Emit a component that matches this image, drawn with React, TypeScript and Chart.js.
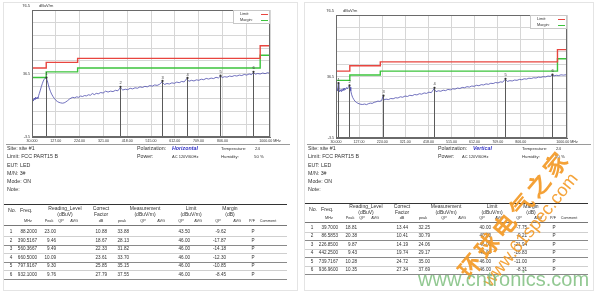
import React, { useEffect, useRef } from "react";
import { Chart, registerables } from "chart.js";

Chart.register(...registerables);

const FONT = '"Liberation Sans", Arial, sans-serif';
Chart.defaults.font.family = FONT;

// ---------- axis / limit data ----------
const X_MIN = 30;
const X_MAX = 1000;
const X_STEP = 97;
const Y_MIN = -3.5;
const Y_MAX = 76.5;
const Y_STEP = 8;
const Y_LABELED = [36.5, -3.5];

const LIMIT_FREQS = [30, 88, 88, 216, 216, 960, 960, 1000];
const LIMIT_LEVELS = [40, 40, 43.5, 43.5, 46, 46, 54, 54];
const MARGIN_LEVELS = [34, 34, 37.5, 37.5, 40, 40, 48, 48];

// ---------- horizontal polarization trace ----------
const H_FREQS = [30, 33, 36, 39, 42, 45, 48, 51, 54, 57, 60, 64, 68, 72, 76, 80, 84, 88, 92, 96, 100, 105, 110, 116, 122, 128, 134, 140, 147, 154, 161, 168, 175, 182, 189, 196, 204, 212, 220, 228, 236, 244, 252, 260, 268, 276, 284, 292, 300, 310, 320, 330, 340, 350, 360, 370, 380, 390, 400, 410, 420, 430, 440, 450, 460, 470, 480, 490, 500, 510, 520, 530, 540, 550, 560, 570, 580, 590, 600, 610, 620, 630, 640, 650, 660, 670, 680, 690, 700, 710, 720, 730, 740, 750, 760, 770, 780, 790, 798, 806, 815, 825, 835, 845, 855, 865, 875, 885, 895, 905, 915, 925, 932, 940, 950, 960, 970, 980, 990, 1000];
const H_LEVELS = [19.0, 20.4, 19.3, 21.0, 20.1, 21.6, 20.5, 21.4, 20.8, 22.6, 24.0, 26.0, 28.2, 30.1, 31.8, 32.9, 33.6, 33.7, 32.2, 29.8, 27.5, 25.3, 23.5, 21.9, 20.6, 19.5, 18.8, 18.3, 18.0, 17.8, 18.0, 18.6, 19.4, 20.3, 21.0, 21.5, 21.2, 21.8, 21.5, 22.3, 22.0, 22.6, 22.4, 23.1, 22.8, 23.9, 23.2, 24.0, 23.7, 24.5, 24.2, 25.4, 24.8, 25.4, 25.1, 25.9, 25.6, 27.6, 26.1, 26.6, 26.3, 27.2, 26.8, 27.5, 27.2, 28.1, 27.7, 28.4, 28.1, 28.9, 28.5, 29.3, 29.0, 29.7, 31.2, 29.6, 30.2, 29.9, 30.6, 30.3, 31.1, 30.7, 31.5, 31.2, 33.1, 31.6, 32.2, 31.8, 32.5, 32.2, 32.9, 32.6, 33.4, 33.0, 33.6, 33.3, 34.1, 33.7, 34.9, 34.0, 34.5, 34.2, 34.9, 34.6, 35.2, 34.9, 35.5, 35.2, 35.9, 35.5, 36.2, 35.8, 37.2, 36.1, 36.5, 36.2, 36.8, 36.4, 37.0, 36.6];

// ---------- vertical polarization trace ----------
const V_FREQS = [30, 33, 36, 39.7, 42, 45, 48, 51, 54, 57, 60, 63, 66, 70, 74, 78, 82, 86.6, 89, 92, 96, 100, 105, 110, 116, 122, 128, 135, 142, 150, 158, 166, 174, 182, 190, 198, 206, 214, 222, 227, 232, 240, 250, 260, 270, 280, 290, 300, 310, 320, 330, 340, 350, 360, 370, 380, 390, 400, 410, 420, 430, 442, 450, 460, 470, 480, 490, 500, 510, 520, 530, 540, 550, 560, 570, 580, 590, 600, 610, 620, 630, 640, 650, 660, 670, 680, 690, 700, 710, 720, 730, 740, 750, 760, 770, 780, 790, 800, 810, 820, 830, 840, 850, 860, 870, 880, 890, 900, 910, 920, 930, 937, 945, 955, 965, 975, 985, 1000];
const V_LEVELS = [26.8, 28.4, 27.2, 31.9, 28.0, 26.6, 27.9, 26.8, 28.1, 27.3, 28.6, 27.5, 28.9, 28.0, 29.3, 28.5, 29.7, 30.6, 29.6, 27.2, 24.6, 22.9, 21.5, 20.4, 19.6, 19.1, 18.7, 18.4, 18.3, 18.6, 18.2, 18.8, 19.2, 19.0, 19.7, 20.0, 20.5, 20.3, 21.0, 23.4, 21.3, 21.8, 21.5, 22.2, 22.0, 22.7, 22.5, 23.3, 23.0, 23.8, 23.5, 24.3, 24.0, 24.8, 24.5, 25.3, 25.0, 25.8, 25.5, 26.3, 26.0, 28.6, 26.6, 27.2, 26.9, 27.6, 27.3, 28.1, 27.8, 28.5, 28.3, 29.0, 28.7, 29.4, 29.2, 29.9, 29.6, 30.3, 30.1, 30.8, 30.5, 31.2, 31.0, 31.7, 31.4, 32.1, 31.9, 32.6, 32.3, 33.0, 32.8, 34.6, 33.3, 33.8, 33.6, 34.2, 34.0, 34.6, 34.4, 35.0, 34.8, 35.4, 35.2, 35.7, 35.5, 36.1, 35.9, 36.4, 36.2, 36.8, 36.6, 37.5, 36.9, 37.3, 37.1, 37.6, 37.4, 37.7];

// ---------- measurement tables ----------
const H_MARK_FREQ = [88.2, 390.5167, 560.3667, 660.5, 797.9167, 932.1];
const H_READING = [23.0, 9.46, 9.49, 10.09, 9.3, 9.76];
const H_FACTOR = [10.88, 18.67, 22.33, 23.61, 25.85, 27.79];
const H_MEAS = [33.88, 28.13, 31.82, 33.7, 35.15, 37.55];
const H_LIMIT = [43.5, 46.0, 46.0, 46.0, 46.0, 46.0];
const H_MARGIN = [-9.62, -17.87, -14.18, -12.3, -10.85, -8.45];

const V_MARK_FREQ = [39.7, 86.5853, 226.85, 442.25, 739.7167, 936.96];
const V_READING = [18.81, 20.38, 9.87, 9.43, 10.28, 10.35];
const V_FACTOR = [13.44, 10.41, 14.19, 19.74, 24.72, 27.34];
const V_MEAS = [32.25, 30.79, 24.06, 29.17, 35.0, 37.69];
const V_LIMIT = [40.0, 40.0, 46.0, 46.0, 46.0, 46.0];
const V_MARGIN = [-7.75, -9.21, -21.94, -16.83, -11.0, -8.31];
const PASS_FAIL = ["P", "P", "P", "P", "P", "P"];

const INFO_LINES = ["Site: site #1", "Limit: FCC PART15 B", "EUT: LED", "M/N: 3#", "Mode: ON", "Note:"];

const RED = "#e8453f";
const GREEN = "#3cc43c";
const BLUE = "#4c4cad";

type Area = { left: number; right: number; top: number; bottom: number };

function xLabel(v: number): string {
  if (Math.abs(v - 903) < 0.01) return "";
  if (Math.abs(v - 1000) < 0.01) return "1000.00 MHz";
  return v < 100 ? v.toFixed(3) : v.toFixed(2);
}

function PlotCanvas(props: {
  ox: number;
  area: Area;
  freqs: number[];
  levels: number[];
  markFreqs: number[];
  markLevels: number[];
}) {
  const ref = useRef<HTMLCanvasElement | null>(null);
  const W = 300;
  const H = 146;
  useEffect(() => {
    const canvas = ref.current;
    if (!canvas) return;
    const { area, freqs, levels, markFreqs, markLevels } = props;
    const overlay = {
      id: "overlay",
      afterDatasetsDraw(chart: any) {
        const { ctx, chartArea: ca, scales } = chart;
        const xs = scales.x;
        const ys = scales.y;
        ctx.save();
        // markers
        markFreqs.forEach((f, i) => {
          const px = Math.round(xs.getPixelForValue(f)) + 0.5;
          const py = ys.getPixelForValue(markLevels[i]);
          ctx.strokeStyle = "#5a5a5a";
          ctx.lineWidth = 1;
          ctx.beginPath();
          ctx.moveTo(px, py);
          ctx.lineTo(px, ca.bottom);
          ctx.stroke();
          ctx.fillStyle = "#333";
          ctx.beginPath();
          ctx.arc(px, py, 1.1, 0, Math.PI * 2);
          ctx.fill();
          ctx.font = `4px ${FONT}`;
          ctx.textAlign = "center";
          ctx.textBaseline = "bottom";
          ctx.fillText(String(i + 1), px, py - 1.5);
        });
        // frame
        ctx.strokeStyle = "#6a6a6a";
        ctx.lineWidth = 1;
        ctx.strokeRect(ca.left + 0.5, ca.top + 0.5, ca.right - ca.left - 1, ca.bottom - ca.top - 1);
        // legend box
        const bw = 37;
        const bh = 13;
        const bx = ca.right - bw;
        const by = ca.top;
        ctx.fillStyle = "#fff";
        ctx.fillRect(bx, by + 1, bw - 1, bh);
        ctx.strokeStyle = "#c8c8c8";
        ctx.strokeRect(bx + 0.5, by + 0.5, bw - 1, bh);
        const ds = chart.data.datasets;
        [0, 1].forEach((k) => {
          const yy = by + 4 + k * 6;
          ctx.fillStyle = "#333";
          ctx.font = `3.8px ${FONT}`;
          ctx.textAlign = "left";
          ctx.textBaseline = "middle";
          ctx.fillText(ds[k].label, bx + 7, yy);
          ctx.strokeStyle = ds[k].borderColor;
          ctx.lineWidth = 1;
          ctx.beginPath();
          ctx.moveTo(bx + 28, yy + 0.5);
          ctx.lineTo(bx + 35, yy + 0.5);
          ctx.stroke();
        });
        // unit
        ctx.fillStyle = "#333";
        ctx.font = `4px ${FONT}`;
        ctx.textBaseline = "middle";
        ctx.textAlign = "right";
        ctx.fillText("76.5", ca.left - 2, ca.top - 4);
        ctx.textAlign = "left";
        ctx.fillText("dBuV/m", ca.left + 7, ca.top - 4);
        ctx.restore();
      },
    };
    const chart = new Chart(canvas, {
      type: "line",
      data: {
        datasets: [
          {
            label: "Limit:",
            data: LIMIT_FREQS.map((f, i) => ({ x: f, y: LIMIT_LEVELS[i] })),
            borderColor: RED,
            borderWidth: 1.4,
            pointRadius: 0,
          },
          {
            label: "Margin:",
            data: LIMIT_FREQS.map((f, i) => ({ x: f, y: MARGIN_LEVELS[i] })),
            borderColor: GREEN,
            borderWidth: 1.4,
            pointRadius: 0,
          },
          {
            label: "Level",
            data: freqs.map((f, i) => ({ x: f, y: levels[i] })),
            borderColor: BLUE,
            borderWidth: 0.8,
            pointRadius: 0,
          },
        ],
      } as any,
      options: {
        animation: false,
        responsive: false,
        maintainAspectRatio: false,
        layout: { padding: { left: 0, top: area.top, right: W - area.right, bottom: 0 } },
        plugins: { legend: { display: false }, tooltip: { enabled: false }, title: { display: false } },
        scales: {
          x: {
            type: "linear",
            min: X_MIN,
            max: X_MAX,
            afterFit: (s: any) => {
              s.height = H - area.bottom;
            },
            ticks: {
              stepSize: X_STEP,
              autoSkip: false,
              maxRotation: 0,
              minRotation: 0,
              padding: 2,
              color: "#333",
              font: { size: 3.6 },
              callback: (v: any) => xLabel(Number(v)),
            },
            grid: { color: "#d6d6d6", lineWidth: 1, drawTicks: false },
            border: { color: "#6a6a6a" },
          },
          y: {
            type: "linear",
            min: Y_MIN,
            max: Y_MAX,
            afterFit: (s: any) => {
              s.width = area.left;
            },
            ticks: {
              stepSize: Y_STEP,
              autoSkip: false,
              padding: 2,
              color: "#333",
              font: { size: 3.6 },
              callback: (v: any) => {
                const n = Number(v);
                return Y_LABELED.some((q) => Math.abs(q - n) < 0.01) ? n.toFixed(1) : "";
              },
            },
            grid: { color: "#d6d6d6", lineWidth: 1, drawTicks: false },
            border: { color: "#6a6a6a" },
          },
        },
      } as any,
      plugins: [overlay as any],
    });
    return () => chart.destroy();
  }, []);
  return (
    <canvas
      ref={ref}
      width={W}
      height={H}
      style={{ position: "absolute", left: props.ox, top: 0, width: W, height: H }}
    />
  );
}

function T(props: {
  x: number;
  y: number;
  a?: "l" | "c" | "r";
  size: number;
  color?: string;
  style?: React.CSSProperties;
  children: React.ReactNode;
}) {
  const tx = props.a === "c" ? "-50%" : props.a === "r" ? "-100%" : "0";
  return (
    <span
      style={{
        position: "absolute",
        left: props.x,
        top: props.y,
        transform: `translate(${tx}, -50%)`,
        fontSize: props.size,
        lineHeight: 1,
        whiteSpace: "nowrap",
        color: props.color || "#333",
        fontFamily: FONT,
        ...props.style,
      }}
    >
      {props.children}
    </span>
  );
}

function HLine(props: { x1: number; x2: number; y: number; h?: number; color: string }) {
  return (
    <div
      style={{
        position: "absolute",
        left: props.x1,
        top: props.y,
        width: props.x2 - props.x1,
        height: props.h || 1,
        background: props.color,
      }}
    />
  );
}

const HDR: [string, number, "l" | "c", "nf" | "h1" | "h2"][] = [
  ["No.", 8, "l", "nf"],
  ["Freq.", 20, "l", "nf"],
  ["Reading_Level", 65, "c", "h1"],
  ["(dBuV)", 65, "c", "h2"],
  ["Correct", 101, "c", "h1"],
  ["Factor", 101, "c", "h2"],
  ["Measurement", 145, "c", "h1"],
  ["(dBuV/m)", 145, "c", "h2"],
  ["Limit", 191, "c", "h1"],
  ["(dBuV/m)", 191, "c", "h2"],
  ["Margin", 230, "c", "h1"],
  ["(dB)", 230, "c", "h2"],
];
const SUB: [string, number][] = [
  ["MHz", 28],
  ["Peak", 49],
  ["QP", 61],
  ["AVG", 74],
  ["dB", 101],
  ["peak", 122],
  ["QP", 143],
  ["AVG", 161],
  ["QP", 181],
  ["AVG", 198],
  ["QP", 218],
  ["AVG", 237],
  ["P/F", 252],
  ["Comment", 268],
];

function Panel(props: {
  dx: number;
  canvasX: number;
  area: Area;
  freqs: number[];
  levels: number[];
  markFreqs: number[];
  reading: number[];
  factor: number[];
  meas: number[];
  limit: number[];
  margin: number[];
  polarization: string;
  acX: number;
  tbl: { top: number; h1: number; h2: number; nf: number; sub: number; hline: number; row0: number; pitch: number };
}) {
  const { dx, tbl } = props;
  const infoY = [148.5, 157, 165.5, 173.5, 182, 190];
  const rows = props.markFreqs.map((f, i) => [
    String(i + 1),
    f.toFixed(4),
    props.reading[i].toFixed(2),
    props.factor[i].toFixed(2),
    props.meas[i].toFixed(2),
    props.limit[i].toFixed(2),
    props.margin[i].toFixed(2),
    PASS_FAIL[i],
  ]);
  const colX = [11, 37, 56, 107, 129, 190, 226, 253];
  const colA: ("c" | "r")[] = ["c", "r", "r", "r", "r", "r", "r", "c"];
  const yOf = { nf: tbl.nf, h1: tbl.h1, h2: tbl.h2 };
  return (
    <>
      <PlotCanvas
        ox={props.canvasX}
        area={props.area}
        freqs={props.freqs}
        levels={props.levels}
        markFreqs={props.markFreqs}
        markLevels={props.meas}
      />
      <HLine x1={dx + 6} x2={dx + 290} y={144} color="#9a9a9a" />
      {INFO_LINES.map((s, i) => (
        <T key={"i" + i} x={dx + 7} y={infoY[i]} size={5.3}>
          {s}
        </T>
      ))}
      <T x={dx + 137} y={148.5} size={5.3}>
        Polarization:
      </T>
      <T x={dx + 172} y={148.5} size={5.3} color="#3434c4" style={{ fontStyle: "italic", fontWeight: 700 }}>
        {props.polarization}
      </T>
      <T x={dx + 137} y={157} size={5.3}>
        Power:
      </T>
      <T x={props.acX} y={157} size={4}>
        AC 120V/60Hz
      </T>
      <T x={dx + 221} y={148.5} size={4.3}>
        Temperature:
      </T>
      <T x={dx + 255} y={148.5} size={4.3}>
        24
      </T>
      <T x={dx + 221} y={157} size={4.3}>
        Humidity:
      </T>
      <T x={dx + 254} y={157} size={4.3}>
        50 %
      </T>
      <HLine x1={dx + 4} x2={dx + 287} y={tbl.top} h={1.5} color="#333" />
      {HDR.map(([s, x, a, r], i) => (
        <T key={"h" + i} x={dx + x} y={yOf[r]} a={a} size={r === "nf" ? 5.3 : 5}>
          {s}
        </T>
      ))}
      {SUB.map(([s, x], i) => (
        <T key={"s" + i} x={dx + x} y={tbl.sub} a="c" size={3.8}>
          {s}
        </T>
      ))}
      <HLine x1={dx + 4} x2={dx + 287} y={tbl.hline} color="#777" />
      {rows.map((r, ri) => (
        <React.Fragment key={"r" + ri}>
          {r.map((s, ci) => (
            <T key={ci} x={dx + colX[ci]} y={tbl.row0 + ri * tbl.pitch} a={colA[ci]} size={4.6}>
              {s}
            </T>
          ))}
          <HLine
            x1={dx + 4}
            x2={dx + 287}
            y={tbl.row0 + ri * tbl.pitch + 4}
            color={ri % 2 === 1 || ri === 5 ? "#8a8a8a" : "#cfcfcf"}
          />
        </React.Fragment>
      ))}
    </>
  );
}

export default function App() {
  return (
    <div
      style={{
        position: "absolute",
        left: 0,
        top: 0,
        width: 600,
        height: 292,
        background: "#ffffff",
        overflow: "hidden",
        fontFamily: FONT,
      }}
    >
      <div style={{ position: "absolute", left: 3, top: 2, width: 293, height: 287, border: "1px solid #e4e4e4" }} />
      <div style={{ position: "absolute", left: 304, top: 2, width: 288, height: 287, border: "1px solid #e4e4e4" }} />
      <Panel
        dx={0}
        canvasX={0}
        area={{ left: 32, right: 270, top: 10, bottom: 137 }}
        freqs={H_FREQS}
        levels={H_LEVELS}
        markFreqs={H_MARK_FREQ}
        reading={H_READING}
        factor={H_FACTOR}
        meas={H_MEAS}
        limit={H_LIMIT}
        margin={H_MARGIN}
        polarization="Horizontal"
        acX={172}
        tbl={{ top: 203.5, h1: 207.5, h2: 214, nf: 211, sub: 221.5, hline: 224.5, row0: 232, pitch: 8.5 }}
      />
      <Panel
        dx={301}
        canvasX={300}
        area={{ left: 36, right: 267, top: 15, bottom: 138 }}
        freqs={V_FREQS}
        levels={V_LEVELS}
        markFreqs={V_MARK_FREQ}
        reading={V_READING}
        factor={V_FACTOR}
        meas={V_MEAS}
        limit={V_LIMIT}
        margin={V_MARGIN}
        polarization="Vertical"
        acX={462}
        tbl={{ top: 202.5, h1: 205.5, h2: 212, nf: 210, sub: 219, hline: 222, row0: 228, pitch: 8.4 }}
      />
      {/* watermark */}
      <div
        style={{
          position: "absolute",
          left: 462,
          top: 274 - 11.5,
          height: 23,
          lineHeight: "23px",
          transformOrigin: "0 50%",
          transform: "rotate(-50deg)",
          fontSize: 23,
          fontWeight: 700,
          letterSpacing: 3.5,
          color: "#f39a26",
          fontFamily: '"Noto Sans CJK SC", sans-serif',
          whiteSpace: "nowrap",
          opacity: 0.92,
        }}
      >
        环球电气之家
      </div>
      <div
        style={{
          position: "absolute",
          left: 486,
          top: 284 - 9,
          height: 18,
          lineHeight: "18px",
          transformOrigin: "0 50%",
          transform: "rotate(-51deg)",
          fontSize: 18,
          color: "#f39a26",
          fontFamily: FONT,
          whiteSpace: "nowrap",
          opacity: 0.9,
        }}
      >
        www.61spec.com
      </div>
      <div
        style={{
          position: "absolute",
          left: 418,
          top: 279 - 10,
          height: 20,
          lineHeight: "20px",
          fontSize: 20,
          color: "#7fbf7f",
          fontFamily: FONT,
          whiteSpace: "nowrap",
          opacity: 0.85,
        }}
      >
        www.cntronics.com
      </div>
    </div>
  );
}
